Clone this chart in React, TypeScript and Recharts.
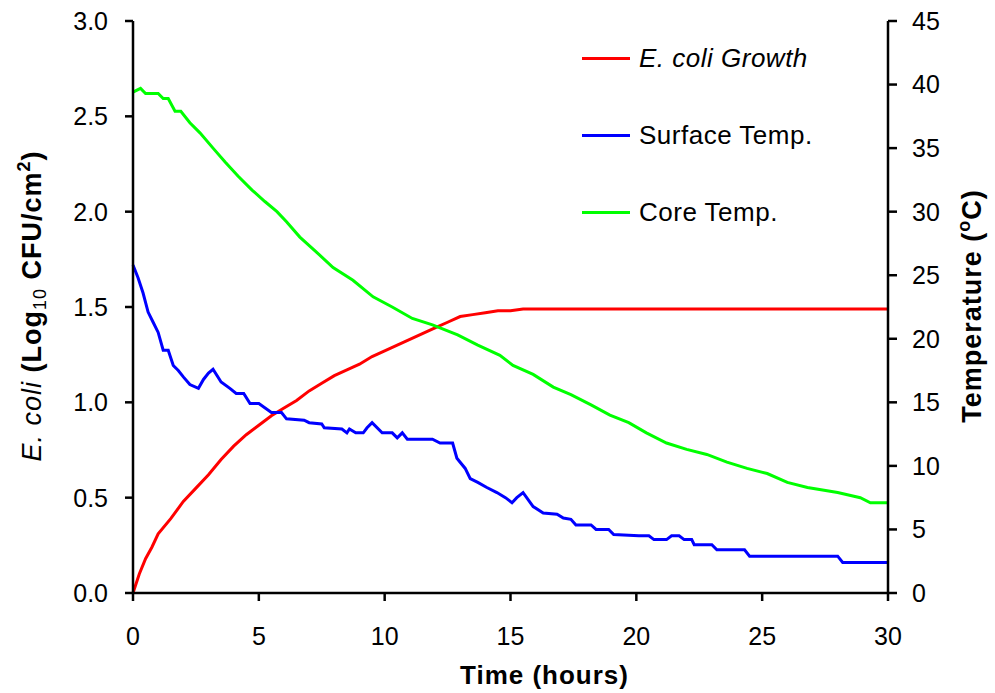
import React from 'react';
import { LineChart, Line, XAxis, YAxis } from 'recharts';

// E. coli growth (log10 CFU/cm2) vs time (h)
const growthHours = [0, 0.25, 0.5, 0.75, 1, 1.5, 2, 2.5, 3, 3.5, 4, 4.5, 5, 5.5, 6, 6.5, 7, 7.5, 8, 8.5, 9, 9.5, 10, 10.5, 11, 11.5, 12, 12.5, 13, 13.5, 14, 14.5, 15, 15.5, 20, 25, 30];
const growthLog = [0, 0.1, 0.18, 0.24, 0.31, 0.39, 0.48, 0.55, 0.62, 0.7, 0.77, 0.83, 0.88, 0.93, 0.97, 1.01, 1.06, 1.1, 1.14, 1.17, 1.2, 1.24, 1.27, 1.3, 1.33, 1.36, 1.39, 1.42, 1.45, 1.46, 1.47, 1.48, 1.48, 1.49, 1.49, 1.49, 1.49];

// surface temperature (°C)
const surfaceHours = [0, 0.2, 0.4, 0.6, 0.8, 1.0, 1.2, 1.4, 1.6, 1.8, 2.0, 2.26, 2.6, 2.8, 3.0, 3.18, 3.5, 3.85, 4.1, 4.4, 4.65, 5.0, 5.5, 5.9, 6.1, 6.8, 7.0, 7.5, 7.6, 8.3, 8.5, 8.6, 8.85, 9.15, 9.3, 9.5, 9.9, 10.3, 10.5, 10.7, 10.9, 11.9, 12.2, 12.7, 12.87, 13.2, 13.4, 13.7, 14.06, 14.46, 14.8, 15.06, 15.25, 15.5, 15.9, 16.3, 16.85, 17.1, 17.4, 17.6, 18.2, 18.4, 18.9, 19.1, 20.1, 20.5, 20.7, 21.2, 21.4, 21.7, 21.9, 22.2, 22.3, 23.0, 23.2, 24.3, 24.5, 28.0, 28.2, 30];
const surfaceTemp = [25.8, 24.8, 23.6, 22.1, 21.3, 20.5, 19.1, 19.1, 17.9, 17.5, 17.0, 16.4, 16.1, 16.8, 17.3, 17.6, 16.6, 16.1, 15.7, 15.7, 14.9, 14.9, 14.2, 14.2, 13.7, 13.6, 13.4, 13.3, 13.0, 12.9, 12.6, 12.9, 12.6, 12.6, 13.0, 13.4, 12.6, 12.6, 12.2, 12.6, 12.1, 12.1, 11.8, 11.8, 10.6, 9.8, 9.0, 8.7, 8.3, 7.9, 7.5, 7.1, 7.5, 7.9, 6.8, 6.3, 6.2, 5.9, 5.8, 5.35, 5.35, 5.0, 5.0, 4.6, 4.5, 4.5, 4.2, 4.2, 4.5, 4.5, 4.2, 4.2, 3.8, 3.8, 3.4, 3.4, 2.9, 2.9, 2.4, 2.4];

// core temperature (°C)
const coreHours = [0, 0.3, 0.5, 1.0, 1.2, 1.4, 1.67, 1.9, 2.26, 2.66, 3.18, 3.66, 4.17, 4.73, 5.24, 5.72, 6.1, 6.63, 7.3, 7.95, 8.74, 9.54, 10.3, 11.1, 11.9, 12.9, 13.7, 14.58, 15.1, 15.9, 16.7, 17.4, 18.2, 18.95, 19.7, 20.4, 21.2, 22.0, 22.8, 23.6, 24.4, 25.2, 26.0, 26.8, 28.0, 28.9, 29.3, 30];
const coreTemp = [39.4, 39.7, 39.3, 39.3, 38.9, 38.9, 37.9, 37.9, 37.0, 36.2, 35.0, 33.9, 32.8, 31.7, 30.8, 30.0, 29.2, 28.0, 26.8, 25.6, 24.6, 23.3, 22.5, 21.6, 21.1, 20.3, 19.5, 18.7, 17.9, 17.2, 16.2, 15.6, 14.8, 14.0, 13.4, 12.6, 11.8, 11.3, 10.9, 10.3, 9.8, 9.4, 8.7, 8.3, 7.9, 7.5, 7.1, 7.1];

const timeTicks = [0, 5, 10, 15, 20, 25, 30];
const logTicks = [0, 0.5, 1, 1.5, 2, 2.5, 3];
const tempTicks = [0, 5, 10, 15, 20, 25, 30, 35, 40, 45];

const seriesNames = ['E. coli Growth', 'Surface Temp.', 'Core Temp.'];
const seriesColors = ['#FF0000', '#0000FF', '#00FF00'];

const growth = growthHours.map((t, i) => ({ t, v: growthLog[i] }));
const surface = surfaceHours.map((t, i) => ({ t, v: surfaceTemp[i] }));
const core = coreHours.map((t, i) => ({ t, v: coreTemp[i] }));

const FONT = '"Liberation Sans", Arial, sans-serif';
const tickStyle = { fill: '#000', fontSize: 25, fontFamily: FONT };
const axisStroke = { stroke: '#000', strokeWidth: 2.5 };

const LeftTitle = () => (
  <text transform="translate(41,306) rotate(-90)" textAnchor="middle" fontFamily={FONT} fontSize={27} fontWeight="bold" fill="#000" letterSpacing={1}>
    <tspan fontStyle="italic" fontWeight="normal">E. coli</tspan>
    <tspan> (Log</tspan>
    <tspan fontSize={18} dy={5} fontWeight="normal">10</tspan>
    <tspan dy={-5}> CFU/cm</tspan>
    <tspan fontSize={18} dy={-11}>2</tspan>
    <tspan dy={11}>)</tspan>
  </text>
);

const RightTitle = () => (
  <text transform="translate(981,306) rotate(-90)" textAnchor="middle" fontFamily={FONT} fontSize={27} fontWeight="bold" fill="#000" letterSpacing={1}>
    <tspan>Temperature (</tspan>
    <tspan fontSize={18} dy={-11}>o</tspan>
    <tspan dy={11}>C)</tspan>
  </text>
);

export default function App() {
  return (
    <div style={{ position: 'absolute', left: 0, top: 0, width: 995, height: 693, background: '#fff' }}>
      <LineChart width={995} height={693} margin={{ top: 21, right: 0, left: 0, bottom: 0 }}>
        <XAxis
          dataKey="t"
          type="number"
          domain={[0, 30]}
          ticks={timeTicks}
          height={100}
          axisLine={axisStroke}
          tickLine={axisStroke}
          tickSize={8}
          tickMargin={26}
          tick={tickStyle}
          label={{ value: 'Time (hours)', position: 'insideBottom', offset: 9, dx: 34, style: { fontFamily: FONT, fontSize: 26, fontWeight: 'bold', fill: '#000', letterSpacing: 1 } }}
        />
        <YAxis
          yAxisId="left"
          domain={[0, 3]}
          ticks={logTicks}
          width={133}
          axisLine={axisStroke}
          tickLine={axisStroke}
          tickSize={8}
          tickMargin={17}
          tick={tickStyle}
          tickFormatter={(v: number) => v.toFixed(1)}
          label={<LeftTitle />}
        />
        <YAxis
          yAxisId="right"
          orientation="right"
          domain={[0, 45]}
          ticks={tempTicks}
          width={107}
          axisLine={axisStroke}
          tickLine={axisStroke}
          tickSize={9}
          tickMargin={15}
          tick={{ ...tickStyle, textAnchor: 'start' }}
          label={<RightTitle />}
        />
        <Line yAxisId="left" data={growth} dataKey="v" name={seriesNames[0]} stroke={seriesColors[0]} strokeWidth={3} dot={false} isAnimationActive={false} />
        <Line yAxisId="right" data={surface} dataKey="v" name={seriesNames[1]} stroke={seriesColors[1]} strokeWidth={3} dot={false} isAnimationActive={false} />
        <Line yAxisId="right" data={core} dataKey="v" name={seriesNames[2]} stroke={seriesColors[2]} strokeWidth={3} dot={false} isAnimationActive={false} />
      </LineChart>
      <div style={{ position: 'absolute', left: 582, top: 20, width: 320 }}>
        {seriesNames.map((name, i) => (
          <div key={name} style={{ height: 77, display: 'flex', alignItems: 'center' }}>
            <div style={{ width: 48, height: 3, background: seriesColors[i], marginRight: 9 }} />
            <span style={{ fontFamily: FONT, fontSize: 26, color: '#000', fontStyle: i === 0 ? 'italic' : 'normal', letterSpacing: 0.5 }}>{name}</span>
          </div>
        ))}
      </div>
    </div>
  );
}
